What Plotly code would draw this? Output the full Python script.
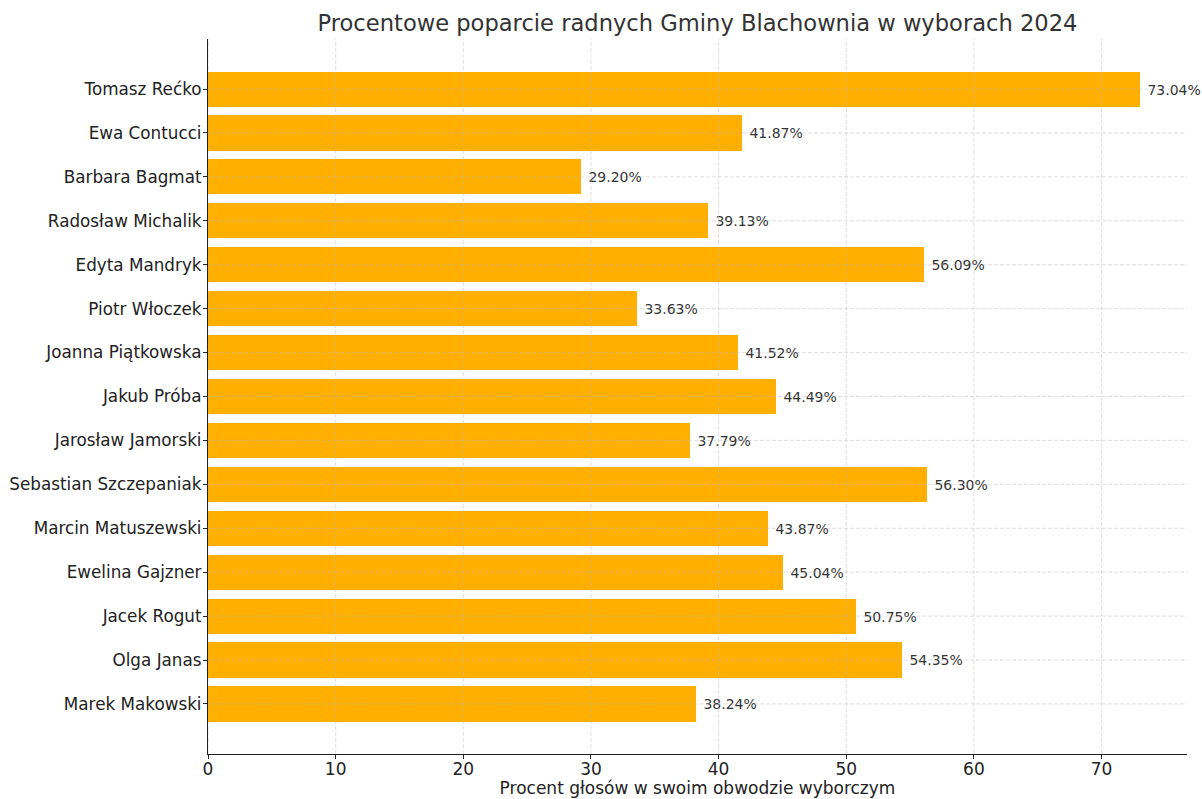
import plotly.graph_objects as go

names = [
    "Tomasz Rećko", "Ewa Contucci", "Barbara Bagmat", "Radosław Michalik",
    "Edyta Mandryk", "Piotr Włoczek", "Joanna Piątkowska", "Jakub Próba",
    "Jarosław Jamorski", "Sebastian Szczepaniak", "Marcin Matuszewski",
    "Ewelina Gajzner", "Jacek Rogut", "Olga Janas", "Marek Makowski",
]
percent = [73.04, 41.87, 29.20, 39.13, 56.09, 33.63, 41.52, 44.49,
           37.79, 56.30, 43.87, 45.04, 50.75, 54.35, 38.24]
x_ticks = [0, 10, 20, 30, 40, 50, 60, 70]

title = "Procentowe poparcie radnych Gminy Blachownia w wyborach 2024"
x_title = "Procent głosów w swoim obwodzie wyborczym"

FONT = "DejaVu Sans, Liberation Sans, sans-serif"
BAR = "#FFAF00"
GRID = "rgba(185,185,185,0.6)"

n = len(names)
bw = 0.8
ypad = (n - 1 + bw) * 0.05
y_range = [n - 1 + bw / 2 + ypad, -bw / 2 - ypad]
x_range = [0, max(percent) * 1.05]

fig = go.Figure(go.Bar(
    x=percent, y=names, orientation="h", width=bw,
    marker=dict(color=BAR, line=dict(width=0)),
    text=[f" {v:.2f}%" for v in percent],
    textposition="outside", cliponaxis=False,
    textfont=dict(family=FONT, size=14, color="#333333"),
    hoverinfo="x+y",
))

shapes = []
for t in x_ticks:
    shapes.append(dict(type="line", xref="x", yref="paper", x0=t, x1=t, y0=0, y1=1,
                       line=dict(color=GRID, width=0.8, dash="4px,2px"), layer="above"))
for nm in names:
    shapes.append(dict(type="line", xref="paper", yref="y", x0=0, x1=1, y0=nm, y1=nm,
                       line=dict(color=GRID, width=0.8, dash="4px,2px"), layer="above"))

fig.update_layout(
    width=1202, height=799,
    margin=dict(l=208, r=15, t=39, b=45, autoexpand=False),
    paper_bgcolor="white", plot_bgcolor="white",
    showlegend=False,
    bargap=0,
    title=dict(text=title, xref="paper", x=0.5, xanchor="center", y=0.971, yanchor="middle",
               font=dict(family=FONT, size=22.6, color="#333333")),
    font=dict(family=FONT, color="#222222"),
    shapes=shapes,
    xaxis=dict(range=x_range, tickvals=x_ticks, showgrid=False, zeroline=False,
               automargin=False,
               showline=True, linecolor="#222222", linewidth=1.2,
               ticks="outside", ticklen=4, tickcolor="#222222", ticklabelstandoff=-5,
               tickfont=dict(family=FONT, size=17, color="#222222"),
               title=dict(text=x_title, standoff=0,
                          font=dict(family=FONT, size=17, color="#222222"))),
    yaxis=dict(range=y_range, type="category", categoryorder="array", categoryarray=names,
               showgrid=False, zeroline=False, automargin=False,
               showline=True, linecolor="#222222", linewidth=1.2,
               ticks="outside", ticklen=4, tickcolor="#222222", ticklabelstandoff=-2,
               tickfont=dict(family=FONT, size=16.8, color="#222222")),
)

fig.write_html("out.html", config={"displayModeBar": False},
               post_script="document.body.style.margin='0';document.body.style.overflow='hidden';")
